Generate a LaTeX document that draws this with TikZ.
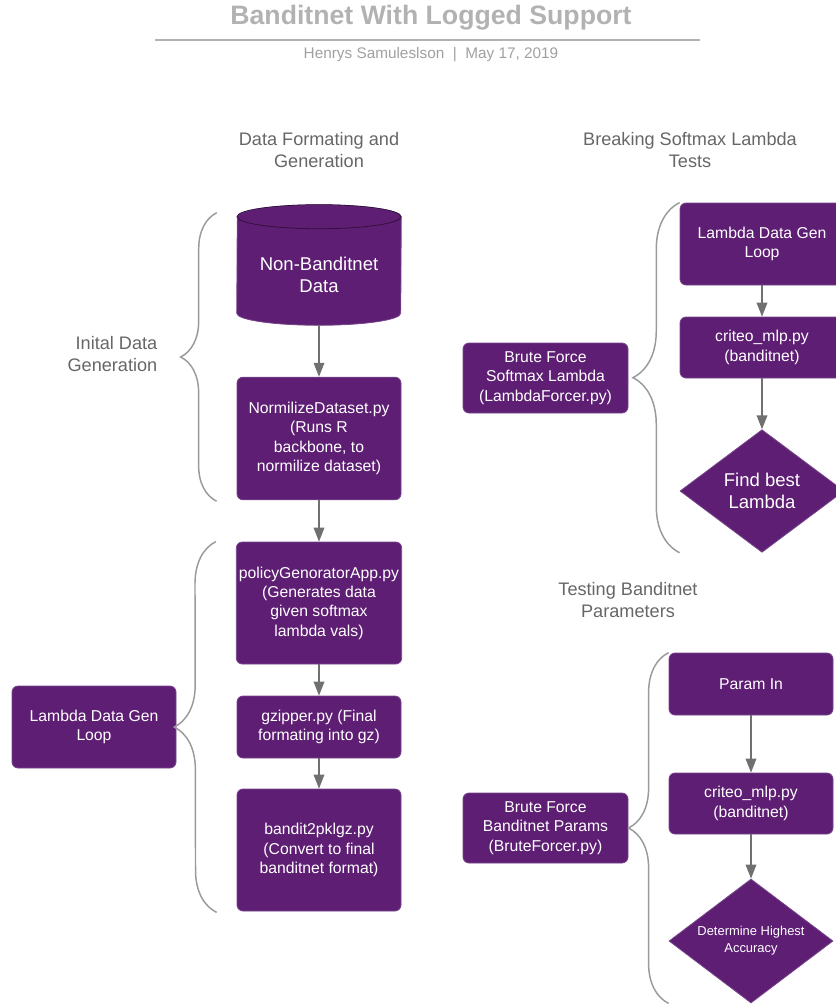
\documentclass[tikz,border=0pt]{standalone}
\usepackage{fontspec}
\setmainfont{Liberation Sans}
\usetikzlibrary{positioning,shapes.geometric,arrows.meta,decorations.pathreplacing,calc,backgrounds}
\definecolor{FlowPurple}{HTML}{5E1E73}
\definecolor{EdgePurple}{HTML}{76468A}
\definecolor{ArrowGray}{HTML}{707070}
\definecolor{BraceGray}{HTML}{9A9A9A}
\definecolor{HeadGray}{HTML}{666666}
\definecolor{TitleGray}{HTML}{B2B2B2}
\tikzset{
  flowbox/.style={
    draw=EdgePurple,fill=FlowPurple,rounded corners=4.5pt,line width=0.6pt,
    minimum width=123pt,inner sep=2pt,align=center,text=white,
    font=\fontsize{11.8}{14.5}\selectfont
  },
  cylnode/.style={
    minimum width=123pt,minimum height=75pt,inner sep=0pt,align=center,
    text=white,font=\fontsize{13.9}{16.5}\selectfont
  },
  flowdiam/.style={
    diamond,aspect=1.33,draw=EdgePurple,fill=FlowPurple,line width=0.6pt,
    minimum width=123pt,minimum height=92pt,inner sep=0pt,align=center,text=white
  },
  flowarrow/.style={draw=ArrowGray,line width=1.1pt,-{Triangle[length=10.5pt,width=8pt]}},
  grpbrace/.style={draw=BraceGray,line width=1.1pt,decorate},
  headtext/.style={align=center,text=HeadGray,font=\fontsize{13.6}{16.5}\selectfont},
}

\begin{document}
\begin{tikzpicture}[x=0.75pt,y=-0.75pt]
  \useasboundingbox (0,0) rectangle (836,1004);
  % title block
  \node[text=TitleGray,font=\fontsize{20}{24}\selectfont\bfseries] (title) at (431,18) {Banditnet With Logged Support};
  \draw[draw=TitleGray,line width=1.5pt] (155,40) -- (700,40);
  \node[text=TitleGray!90!black,font=\fontsize{11.5}{14}\selectfont] (sub) at (431,55) {Henrys Samuleslson~~|~~May 17, 2019};
  % headings
  \node[headtext] (hd1) at (319,150) {Data Formating and\\Generation};
  \node[headtext] (hd2) at (690,150) {Breaking Softmax Lambda\\Tests};
  \node[headtext] (hd3) at (628,600) {Testing Banditnet\\Parameters};
  % left column
  \node[cylnode] (cyl) at (319,275) {Non-Banditnet\\Data};
  \begin{scope}[on background layer]
    \filldraw[draw=EdgePurple,fill=FlowPurple,line width=0.6pt]
      ([yshift=9pt]cyl.south west) arc[start angle=180,end angle=360,x radius=61.5pt,y radius=9pt]
      -- ([yshift=6pt]cyl.north east) arc[start angle=0,end angle=180,x radius=61.5pt,y radius=9pt] -- cycle;
    \draw[draw=FlowPurple!55!black,line width=0.6pt] ([yshift=6pt]cyl.north) ellipse[x radius=61.5pt,y radius=9pt];
  \end{scope}
  \node[flowbox,minimum height=92pt] (nrm) at (319,438.5) {NormilizeDataset.py\\(Runs R\\backbone, to\\normilize dataset)};
  \node[flowbox,minimum height=91.5pt] (pga) at (319,603) {policyGenoratorApp.py\\(Generates data\\given softmax\\lambda vals)};
  \node[flowbox,minimum height=46.5pt] (gzp) at (319,727) {gzipper.py (Final\\formating into gz)};
  \node[flowbox,minimum height=91.5pt] (bpk) at (319,850) {bandit2pklgz.py\\(Convert to final\\banditnet format)};
  \node[flowbox,minimum height=61.5pt] (ldl) at (94,727) {Lambda Data Gen\\Loop};
  \node[headtext,align=right,anchor=east] (lbl) at (162,354) {Inital Data\\Generation};
  \draw[flowarrow] (cyl) -- (nrm);
  \draw[flowarrow] (nrm) -- (pga);
  \draw[flowarrow] (pga) -- (gzp);
  \draw[flowarrow] (gzp) -- (bpk);
  \draw[grpbrace,decoration={brace,amplitude=27pt}] ($(nrm.south west)+(-20,1)$) -- ($(cyl.north west)+(-20,-12)$);
  \draw[grpbrace,decoration={brace,amplitude=31.5pt}] ($(bpk.south west)+(-20,1)$) -- ($(pga.north west)+(-20,0)$);
  % softmax lambda tests
  \node[flowbox,minimum height=61.5pt] (ldg) at (762,244) {Lambda Data Gen\\Loop};
  \node[flowbox,minimum height=45.75pt] (cr1) at (762,347.5) {criteo\_mlp.py\\(banditnet)};
  \node[flowdiam,font=\fontsize{13.9}{16.5}\selectfont] (fbl) at (762,491) {Find best\\Lambda};
  \node[flowbox,minimum width=123.75pt,minimum height=52.5pt] (bfs) at (545.5,378) {Brute Force\\Softmax Lambda\\(LambdaForcer.py)};
  \draw[flowarrow] (ldg) -- (cr1);
  \draw[flowarrow] (cr1) -- (fbl);
  \draw[grpbrace,decoration={brace,amplitude=35pt}] (fbl.west |- fbl.south) -- (ldg.north west);
  % banditnet parameter tests
  \node[flowbox,minimum height=46.5pt] (prm) at (751,684) {Param In};
  \node[flowbox,minimum height=45.75pt] (cr2) at (751,803.5) {criteo\_mlp.py\\(banditnet)};
  \node[flowdiam,minimum height=93pt,font=\fontsize{9.7}{12.8}\selectfont] (dha) at (751,941) {Determine Highest\\Accuracy};
  \node[flowbox,minimum width=123.75pt,minimum height=52.5pt] (bfb) at (545.5,828) {Brute Force\\Banditnet Params\\(BruteForcer.py)};
  \draw[flowarrow] (prm) -- (cr2);
  \draw[flowarrow] (cr2) -- (dha);
  \draw[grpbrace,decoration={brace,amplitude=30pt}] (dha.west |- dha.south) -- (prm.north west);
\end{tikzpicture}
\end{document}
